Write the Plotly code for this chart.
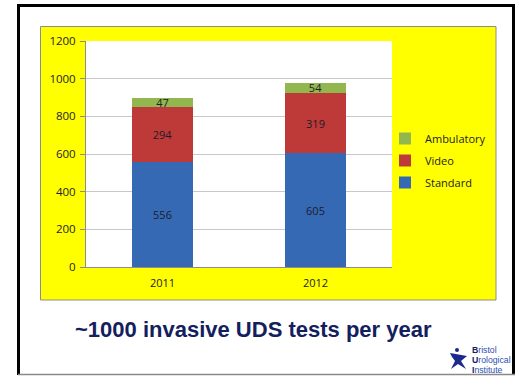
import plotly.graph_objects as go

# Annual invasive urodynamic study counts by type
years = ["2011", "2012"]
standard = [556, 605]
video = [294, 319]
ambulatory = [47, 54]
y_ticks = [0, 200, 400, 600, 800, 1000, 1200]

W, H = 516, 377
# plot area in pixels
L, R, T, B = 86, 392, 41, 267


def px(x):
    return (x - L) / (R - L)


def py(y):
    return (B - y) / (B - T)


font_fam = "Open Sans, Lato, Arial, sans-serif"
ink = "#1c1c2a"
label_font = dict(family=font_fam, size=11, color=ink)

fig = go.Figure()
series = [
    ("Standard", standard, "#3669b4", 3),
    ("Video", video, "#bd3a38", 2),
    ("Ambulatory", ambulatory, "#93b74f", 1),
]
for name, vals, col, rank in series:
    fig.add_trace(go.Bar(
        x=years, y=vals, name=name, legendgroup=name, legendrank=rank,
        marker=dict(color=col, line=dict(width=0)),
        text=[str(v) for v in vals], textposition="inside",
        insidetextanchor="middle", textangle=0,
        textfont=label_font, constraintext="none",
    ))

navy = "#13205e"


def seg(x0, y0, x1, y1, color, width):
    return dict(type="line", xref="paper", yref="paper", layer="below",
                x0=px(x0), y0=py(y0), x1=px(x1), y1=py(y1),
                line=dict(color=color, width=width))


shapes = [
    # slide frame: heavy top and sides, thin bottom rule
    seg(17, 5.5, 515, 5.5, "black", 3),
    seg(18.5, 4, 18.5, 375, "black", 3),
    seg(513.5, 4, 513.5, 375, "black", 3),
    seg(18, 374.5, 515, 374.5, "#8a8a8a", 1.5),
    # chart panel
    dict(type="rect", xref="paper", yref="paper", layer="below",
         x0=px(40.5), x1=px(496), y0=py(300), y1=py(26.5),
         line=dict(color="#8c8c8c", width=1), fillcolor="#ffff00"),
    # plot area
    dict(type="rect", xref="paper", yref="paper", layer="below",
         x0=0, x1=1, y0=0, y1=1, line=dict(width=0), fillcolor="white"),
    # logo figure: head, body and limbs
    dict(type="circle", xref="paper", yref="paper",
         x0=px(455), x1=px(459), y0=py(352), y1=py(348),
         line=dict(width=0), fillcolor="#1b2a8c"),
    dict(type="path", xref="paper", yref="paper",
         path="M {} {} L {} {} L {} {} L {} {} L {} {} L {} {} L {} {} L {} {} Z".format(
             px(450), py(353), px(467), py(356), px(461), py(361),
             px(466), py(369), px(458), py(364), px(451), py(369),
             px(455), py(361), px(452), py(357)),
         line=dict(width=0), fillcolor="#1b2a8c"),
]

annotations = [
    dict(xref="paper", yref="paper", x=px(253.5), y=py(329),
         text="<b>~1000 invasive UDS tests per year</b>", showarrow=False,
         font=dict(family="Liberation Sans, Arial, sans-serif", size=22,
                   color=navy),
         xanchor="center", yanchor="middle"),
]
for i, (first, rest) in enumerate([("B", "ristol"), ("U", "rological"), ("I", "nstitute")]):
    annotations.append(dict(
        xref="paper", yref="paper", x=px(470), y=py(350 + 10 * i),
        text="<b>{}</b><span style='color:#2d4fb0'>{}</span>".format(first, rest),
        showarrow=False, xanchor="left", yanchor="middle",
        font=dict(family="Liberation Sans, Arial, sans-serif", size=8.7,
                  color=navy)))

fig.update_layout(
    width=W, height=H,
    margin=dict(l=L, r=W - R, t=T, b=H - B, pad=0, autoexpand=False),
    paper_bgcolor="white", plot_bgcolor="rgba(0,0,0,0)",
    barmode="stack", bargap=0.6,
    showlegend=True,
    legend=dict(x=px(385), y=py(124), xanchor="left", yanchor="top",
                traceorder="grouped", bgcolor="rgba(0,0,0,0)",
                font=dict(family=font_fam, size=11, color=ink),
                itemwidth=30, tracegroupgap=3),
    xaxis=dict(showgrid=False, showline=True, linecolor="#8c8c8c",
               linewidth=1, ticks="", tickfont=dict(family=font_fam, size=11,
                                                     color=ink),
               ticklabelstandoff=6),
    yaxis=dict(range=[0, 1200], tickvals=y_ticks, showgrid=True,
               gridcolor="#c8c8c8", gridwidth=1, showline=True,
               linecolor="#8c8c8c", linewidth=1, ticks="outside",
               ticklen=5, tickcolor="#8c8c8c", zeroline=False,
               tickfont=dict(family=font_fam, size=11.5, color=ink),
               ticklabelstandoff=2),
    shapes=shapes,
    annotations=annotations,
)

fig.write_html("out.html")
